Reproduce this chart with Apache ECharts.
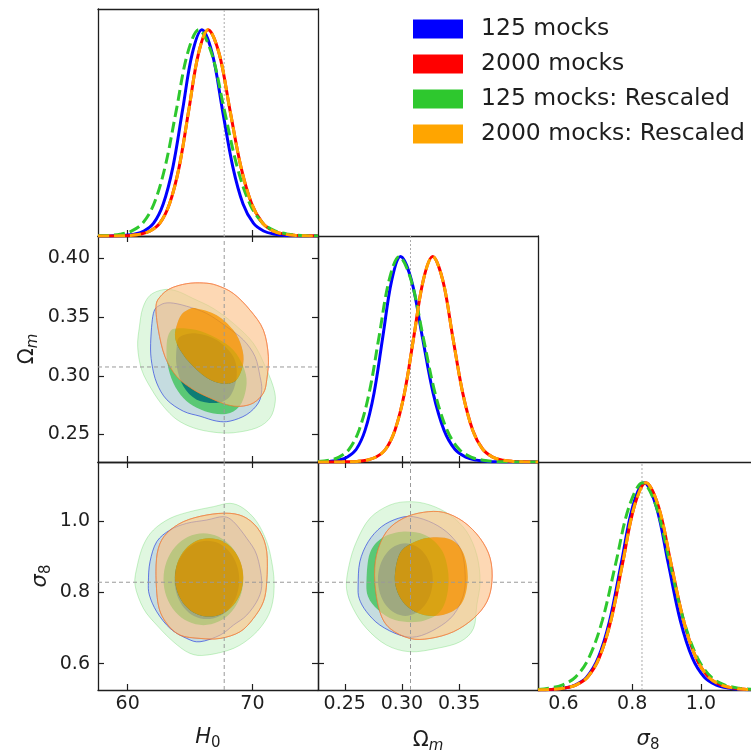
<!DOCTYPE html>
<html><head><meta charset="utf-8">
<script src="https://cdn.jsdelivr.net/npm/echarts@6/dist/echarts.min.js"></script>
<style>html,body{margin:0;padding:0;background:#fff}#c{width:751px;height:755px}</style>
</head><body><div id="c"></div>
<script>
// ---------------- data ----------------
const seriesNames = ['125 mocks', '2000 mocks', '125 mocks: Rescaled', '2000 mocks: Rescaled'];
const truthH0 = 67.74, truthOm = 0.3075, truthS8 = 0.8285;
const ticksH0 = [60, 70];
const ticksOmX = [0.25, 0.30, 0.35];
const ticksOmY = [0.25, 0.30, 0.35, 0.40];
const ticksS8 = [0.6, 0.8, 1.0];

// 1D marginals (normalised to peak 1)
const h0Blue = [[57.62,0],[58.3,0],[58.98,0.001],[59.75,0.003],[60.53,0.009],[61.30,0.024],[62.08,0.062],[62.85,0.155],[63.63,0.335],[64.40,0.61],[65.18,0.885],[65.95,1],[66.78,0.885],[67.60,0.61],[68.43,0.335],[69.25,0.155],[70.08,0.062],[70.90,0.024],[71.73,0.009],[72.55,0.003],[73.38,0.001],[74.3,0],[75.26,0]];
const h0Red = [[57.62,0],[58.7,0],[59.48,0.001],[60.25,0.003],[61.03,0.009],[61.80,0.024],[62.58,0.062],[63.35,0.155],[64.13,0.335],[64.90,0.61],[65.68,0.885],[66.45,1],[67.33,0.885],[68.20,0.61],[69.08,0.335],[69.95,0.155],[70.83,0.062],[71.70,0.024],[72.58,0.009],[73.45,0.003],[74.33,0.001],[75.26,0]];
const h0Green = [[57.62,0.001],[58.5,0.003],[59.4,0.009],[60.3,0.024],[61.2,0.062],[62.1,0.155],[63.0,0.335],[63.9,0.61],[64.8,0.885],[65.7,1],[66.73,0.885],[67.75,0.61],[68.78,0.335],[69.8,0.155],[70.83,0.062],[71.85,0.024],[72.88,0.009],[73.9,0.003],[74.93,0.001],[75.26,0]];
const h0Orange = [[57.62,0],[58.7,0],[59.48,0.001],[60.25,0.003],[61.03,0.009],[61.80,0.024],[62.58,0.062],[63.35,0.155],[64.13,0.335],[64.90,0.61],[65.68,0.885],[66.45,1],[67.33,0.885],[68.20,0.61],[69.08,0.335],[69.95,0.155],[70.83,0.062],[71.70,0.024],[72.58,0.009],[73.45,0.003],[74.33,0.001],[75.26,0]];

const omBlue = [[0.2266,0],[0.2290,0.001],[0.2368,0.003],[0.2446,0.009],[0.2523,0.024],[0.2601,0.062],[0.2678,0.155],[0.2756,0.335],[0.2833,0.61],[0.2911,0.885],[0.2988,1],[0.3083,0.885],[0.3178,0.61],[0.3273,0.335],[0.3368,0.155],[0.3463,0.062],[0.3558,0.024],[0.3653,0.009],[0.3748,0.003],[0.3843,0.001],[0.395,0],[0.419,0]];
const omRed = [[0.2266,0],[0.245,0],[0.2526,0.001],[0.2609,0.003],[0.2692,0.009],[0.2774,0.024],[0.2857,0.062],[0.2939,0.155],[0.3022,0.335],[0.3104,0.61],[0.3187,0.885],[0.3269,1],[0.3357,0.885],[0.3444,0.61],[0.3532,0.335],[0.3619,0.155],[0.3707,0.062],[0.3794,0.024],[0.3882,0.009],[0.3969,0.003],[0.4057,0.001],[0.419,0]];
const omGreen = [[0.2266,0.002],[0.2363,0.009],[0.2450,0.024],[0.2538,0.062],[0.2625,0.155],[0.2713,0.335],[0.2800,0.61],[0.2888,0.885],[0.2975,1],[0.3080,0.885],[0.3185,0.61],[0.3290,0.335],[0.3395,0.155],[0.3500,0.062],[0.3605,0.024],[0.3710,0.009],[0.3815,0.003],[0.3920,0.001],[0.403,0],[0.419,0]];
const omOrange = [[0.2266,0],[0.245,0],[0.2526,0.001],[0.2609,0.003],[0.2692,0.009],[0.2774,0.024],[0.2857,0.062],[0.2939,0.155],[0.3022,0.335],[0.3104,0.61],[0.3187,0.885],[0.3269,1],[0.3357,0.885],[0.3444,0.61],[0.3532,0.335],[0.3619,0.155],[0.3707,0.062],[0.3794,0.024],[0.3882,0.009],[0.3969,0.003],[0.4057,0.001],[0.419,0]];

const s8Blue = [[0.526,0],[0.5335,0.001],[0.567,0.003],[0.6005,0.009],[0.634,0.024],[0.6675,0.062],[0.701,0.155],[0.7345,0.335],[0.768,0.61],[0.8015,0.885],[0.835,1],[0.870,0.885],[0.905,0.61],[0.940,0.335],[0.975,0.155],[1.010,0.062],[1.045,0.024],[1.080,0.009],[1.115,0.003],[1.150,0.001],[1.166,0]];
const s8Red = [[0.526,0],[0.534,0.001],[0.568,0.003],[0.602,0.009],[0.636,0.024],[0.670,0.062],[0.704,0.155],[0.738,0.335],[0.772,0.61],[0.806,0.885],[0.840,1],[0.8765,0.885],[0.913,0.61],[0.9495,0.335],[0.986,0.155],[1.0225,0.062],[1.059,0.024],[1.0955,0.009],[1.132,0.003],[1.166,0.001]];
const s8Green = [[0.526,0.002],[0.557,0.009],[0.596,0.024],[0.635,0.062],[0.674,0.155],[0.713,0.335],[0.752,0.61],[0.791,0.885],[0.830,1],[0.870,0.885],[0.910,0.61],[0.950,0.335],[0.990,0.155],[1.030,0.062],[1.070,0.024],[1.110,0.009],[1.150,0.003],[1.166,0.002]];
const s8Orange = [[0.526,0],[0.534,0.001],[0.568,0.003],[0.602,0.009],[0.636,0.024],[0.670,0.062],[0.704,0.155],[0.738,0.335],[0.772,0.61],[0.806,0.885],[0.840,1],[0.8765,0.885],[0.913,0.61],[0.9495,0.335],[0.986,0.155],[1.0225,0.062],[1.059,0.024],[1.0955,0.009],[1.132,0.003],[1.166,0.001]];

// 2D contours, panel H0 - Omega_m  (95% outer, 68% inner)
const h0OmBlueOuter = [[61.84,0.3276],[62.06,0.3530],[62.59,0.3601],[63.40,0.3621],[64.73,0.3592],[66.34,0.3530],[67.94,0.3417],[69.28,0.3305],[70.21,0.3164],[70.61,0.2994],[70.75,0.2882],[70.48,0.2769],[69.55,0.2670],[68.21,0.2614],[67.14,0.2614],[65.80,0.2656],[64.47,0.2698],[63.13,0.2797],[62.33,0.2938],[61.93,0.3107]];
const h0OmBlueInner = [[64.20,0.3333],[65.53,0.3361],[67.14,0.3305],[68.47,0.3163],[68.74,0.2994],[68.21,0.2825],[67.14,0.2769],[65.53,0.2797],[64.46,0.2910],[63.93,0.3079],[63.93,0.3248]];
const h0OmRedOuter = [[62.27,0.3587],[62.59,0.3671],[63.40,0.3742],[64.73,0.3784],[66.07,0.3790],[67.14,0.3770],[68.48,0.3700],[69.81,0.3559],[70.88,0.3389],[71.28,0.3164],[71.15,0.2966],[70.88,0.2853],[70.08,0.2769],[69.01,0.2740],[67.94,0.2755],[66.60,0.2811],[65.27,0.2882],[63.93,0.2994],[62.99,0.3164],[62.46,0.3389]];
const h0OmRedInner = [[65.53,0.3573],[67.14,0.3516],[68.47,0.3389],[69.14,0.3248],[69.27,0.3107],[68.74,0.2966],[67.80,0.2932],[66.60,0.2966],[65.26,0.3079],[64.20,0.3220],[63.79,0.3347],[64.20,0.3502],[64.86,0.3564]];
const h0OmGreenOuter = [[60.80,0.3248],[60.94,0.3417],[61.20,0.3573],[61.79,0.3685],[62.86,0.3733],[63.93,0.3722],[65.27,0.3657],[66.87,0.3573],[68.48,0.3446],[70.08,0.3276],[71.15,0.3051],[71.74,0.2882],[71.82,0.2769],[71.42,0.2642],[70.35,0.2557],[68.48,0.2515],[66.87,0.2520],[65.27,0.2557],[63.93,0.2628],[62.86,0.2740],[61.93,0.2882],[61.12,0.3051]];
const h0OmGreenInner = [[63.93,0.3403],[65.53,0.3389],[67.14,0.3319],[68.47,0.3220],[69.27,0.3079],[69.54,0.2938],[69.14,0.2769],[68.21,0.2684],[66.87,0.2679],[65.53,0.2727],[64.46,0.2811],[63.66,0.2938],[63.18,0.3107],[63.13,0.3277],[63.39,0.3375]];
const h0OmOrangeOuter = [[62.27,0.3587],[62.59,0.3671],[63.40,0.3742],[64.73,0.3784],[66.07,0.3790],[67.14,0.3770],[68.48,0.3700],[69.81,0.3559],[70.88,0.3389],[71.28,0.3164],[71.15,0.2966],[70.88,0.2853],[70.08,0.2769],[69.01,0.2740],[67.94,0.2755],[66.60,0.2811],[65.27,0.2882],[63.93,0.2994],[62.99,0.3164],[62.46,0.3389]];
const h0OmOrangeInner = [[65.53,0.3573],[67.14,0.3516],[68.47,0.3389],[69.14,0.3248],[69.27,0.3107],[68.74,0.2966],[67.80,0.2932],[66.60,0.2966],[65.26,0.3079],[64.20,0.3220],[63.79,0.3347],[64.20,0.3502],[64.86,0.3564]];

// panel H0 - sigma8
const h0S8BlueOuter = [[61.66,0.8300],[61.79,0.8861],[62.33,0.9423],[63.40,0.9751],[64.73,0.9938],[66.34,1.0032],[67.67,1.0125],[68.48,0.9985],[69.55,0.9517],[70.35,0.9049],[70.75,0.8300],[70.48,0.7831],[69.55,0.7363],[68.48,0.7082],[67.41,0.6801],[65.80,0.6614],[64.73,0.6708],[63.40,0.6989],[62.33,0.7457],[61.74,0.7925]];
const h0S8BlueInner = [[68.95,0.835],[68.75,0.877],[68.19,0.913],[67.35,0.937],[66.35,0.945],[65.35,0.937],[64.51,0.913],[63.95,0.877],[63.75,0.835],[63.95,0.793],[64.51,0.757],[65.35,0.733],[66.35,0.725],[67.35,0.733],[68.19,0.757],[68.75,0.793]];
const h0S8RedOuter = [[62.27,0.8580],[62.46,0.9236],[63.13,0.9657],[64.47,0.9985],[66.34,1.0172],[68.21,1.0219],[69.55,1.0079],[70.61,0.9704],[71.15,0.9142],[71.15,0.8300],[70.88,0.7738],[70.08,0.7270],[69.01,0.6895],[67.41,0.6708],[65.80,0.6708],[64.20,0.6801],[63.13,0.7129],[62.46,0.7644]];
const h0S8RedInner = [[69.27,0.842],[69.06,0.884],[68.47,0.920],[67.58,0.944],[66.53,0.952],[65.48,0.944],[64.59,0.920],[64.0,0.884],[63.79,0.842],[64.0,0.800],[64.59,0.764],[65.48,0.740],[66.53,0.732],[67.58,0.740],[68.47,0.764],[69.06,0.800]];
const h0S8GreenOuter = [[60.59,0.8206],[60.78,0.8768],[61.26,0.9330],[62.06,0.9751],[63.40,1.0079],[65.00,1.0266],[66.87,1.0406],[68.21,1.0500],[69.28,1.0360],[70.35,0.9985],[71.15,0.9423],[71.55,0.8861],[71.74,0.8300],[71.63,0.7738],[71.15,0.7270],[70.08,0.6801],[68.48,0.6427],[66.34,0.6240],[65.00,0.6287],[63.66,0.6614],[62.33,0.7082],[61.26,0.7551]];
const h0S8GreenInner = [[69.27,0.837],[69.03,0.886],[68.33,0.928],[67.30,0.956],[66.07,0.966],[64.84,0.956],[63.81,0.928],[63.11,0.886],[62.87,0.837],[63.11,0.788],[63.81,0.746],[64.84,0.718],[66.07,0.708],[67.30,0.718],[68.33,0.746],[69.03,0.788]];
const h0S8OrangeOuter = [[62.27,0.8580],[62.46,0.9236],[63.13,0.9657],[64.47,0.9985],[66.34,1.0172],[68.21,1.0219],[69.55,1.0079],[70.61,0.9704],[71.15,0.9142],[71.15,0.8300],[70.88,0.7738],[70.08,0.7270],[69.01,0.6895],[67.41,0.6708],[65.80,0.6708],[64.20,0.6801],[63.13,0.7129],[62.46,0.7644]];
const h0S8OrangeInner = [[69.27,0.842],[69.06,0.884],[68.47,0.920],[67.58,0.944],[66.53,0.952],[65.48,0.944],[64.59,0.920],[64.0,0.884],[63.79,0.842],[64.0,0.800],[64.59,0.764],[65.48,0.740],[66.53,0.732],[67.58,0.740],[68.47,0.764],[69.06,0.800]];

// panel Omega_m - sigma8
const omS8BlueOuter = [[0.2617,0.8206],[0.2632,0.8861],[0.2705,0.9423],[0.2822,0.9845],[0.2968,1.0079],[0.3099,1.0125],[0.3275,0.9938],[0.3421,0.9610],[0.3523,0.9142],[0.3553,0.8487],[0.3538,0.7925],[0.3450,0.7363],[0.3304,0.6989],[0.3129,0.6755],[0.2982,0.6801],[0.2807,0.7082],[0.2690,0.7457],[0.2626,0.7831]];
const omS8BlueInner = [[0.327,0.836],[0.3252,0.875],[0.3200,0.908],[0.3122,0.930],[0.303,0.938],[0.2938,0.930],[0.2860,0.908],[0.2808,0.875],[0.279,0.836],[0.2808,0.797],[0.2860,0.764],[0.2938,0.742],[0.303,0.734],[0.3122,0.742],[0.3200,0.764],[0.3252,0.797]];
const omS8RedOuter = [[0.2763,0.8300],[0.2778,0.9049],[0.2865,0.9704],[0.3012,1.0079],[0.3187,1.0247],[0.3363,1.0247],[0.3538,0.9985],[0.3684,0.9517],[0.3772,0.8955],[0.3787,0.8300],[0.3743,0.7738],[0.3626,0.7270],[0.3450,0.6895],[0.3246,0.6708],[0.3070,0.6708],[0.2895,0.6989],[0.2807,0.7457]];
const omS8RedInner = [[0.2938,0.8345],[0.2982,0.9096],[0.3114,0.9421],[0.3274,0.9545],[0.3436,0.9469],[0.3538,0.9096],[0.3576,0.8438],[0.3538,0.7784],[0.3436,0.7455],[0.3274,0.7334],[0.3114,0.7455],[0.2997,0.7784]];
const omS8GreenOuter = [[0.2515,0.8112],[0.2538,0.8768],[0.2602,0.9423],[0.2719,1.0079],[0.2895,1.0453],[0.3070,1.0547],[0.3246,1.0453],[0.3421,1.0172],[0.3567,0.9704],[0.3655,0.9049],[0.3684,0.8300],[0.3655,0.7644],[0.3626,0.6989],[0.3509,0.6614],[0.3304,0.6427],[0.3070,0.6333],[0.2865,0.6521],[0.2690,0.6989],[0.2573,0.7551]];
const omS8GreenInner = [[0.2690,0.8345],[0.2719,0.9096],[0.2822,0.9517],[0.2997,0.9702],[0.3202,0.9610],[0.3348,0.9188],[0.3406,0.8534],[0.3392,0.7877],[0.3318,0.7410],[0.3143,0.7174],[0.2938,0.7222],[0.2792,0.7503],[0.2704,0.7877]];
const omS8OrangeOuter = [[0.2763,0.8300],[0.2778,0.9049],[0.2865,0.9704],[0.3012,1.0079],[0.3187,1.0247],[0.3363,1.0247],[0.3538,0.9985],[0.3684,0.9517],[0.3772,0.8955],[0.3787,0.8300],[0.3743,0.7738],[0.3626,0.7270],[0.3450,0.6895],[0.3246,0.6708],[0.3070,0.6708],[0.2895,0.6989],[0.2807,0.7457]];
const omS8OrangeInner = [[0.2938,0.8345],[0.2982,0.9096],[0.3114,0.9421],[0.3274,0.9545],[0.3436,0.9469],[0.3538,0.9096],[0.3576,0.8438],[0.3538,0.7784],[0.3436,0.7455],[0.3274,0.7334],[0.3114,0.7455],[0.2997,0.7784]];

// ---------------- styling / layout ----------------
const FONT = 'DejaVu Sans';
const INK = '#1e1e1e';
const lineColors = ['#0000ff', '#ff0000', '#2ec82e', '#ffa500'];
const lineDash = ['solid', 'solid', [11, 5], [11, 5]];
const contourStyles = [
  {ring: 'rgba(0,0,255,0.12)', inner: 'rgba(0,0,255,0.85)', line: 'rgba(30,30,255,0.65)'},
  {ring: 'rgba(255,0,0,0.06)', inner: 'rgba(255,0,0,0.3)', line: 'rgba(255,0,0,0.4)'},
  {ring: 'rgba(46,200,46,0.15)', inner: 'rgba(0,183,25,0.6)', line: 'rgba(46,200,46,0.25)'},
  {ring: 'rgba(252,200,140,0.6)', inner: 'rgba(255,160,0,0.77)', line: 'rgba(242,135,60,0.75)'}
];
const rangeH0 = [57.62, 75.26], rangeOm = [0.2266, 0.4190], rangeS8 = [0.526, 1.166], rangePdf = [0, 1.1];

const nameRich = {
  it: {fontFamily: FONT, fontSize: 21, fontStyle: 'italic', color: INK, lineHeight: 26},
  up: {fontFamily: FONT, fontSize: 21, color: INK, lineHeight: 26},
  sub: {fontFamily: FONT, fontSize: 15, color: INK, lineHeight: 14, verticalAlign: 'bottom'},
  subi: {fontFamily: FONT, fontSize: 15, fontStyle: 'italic', color: INK, lineHeight: 14, verticalAlign: 'bottom'}
};
const f0 = v => String(Math.round(v));
const f1 = v => v.toFixed(1);
const f2 = v => v.toFixed(2);

const grids = [
  {left: 98, top: 9, width: 220, height: 227},
  {left: 98, top: 236, width: 220, height: 226},
  {left: 318, top: 236, width: 220, height: 226},
  {left: 98, top: 462, width: 220, height: 228},
  {left: 318, top: 462, width: 220, height: 228},
  {left: 538, top: 462, width: 220, height: 228}
].map(g => Object.assign({containLabel: false, outerBoundsMode: 'none', show: false}, g));

const panels = [
  {x: rangeH0, xt: ticksH0, y: rangePdf, oneD: true},
  {x: rangeH0, xt: ticksH0, y: rangeOm, yt: ticksOmY, yfmt: f2, yname: '{up|Ω}{subi|m}', ygap: 57},
  {x: rangeOm, xt: ticksOmX, y: rangePdf, oneD: true},
  {x: rangeH0, xt: ticksH0, xfmt: f0, xname: '{it|H}{sub|0}', xgap: 35, y: rangeS8, yt: ticksS8, yfmt: f1, yname: '{it|σ}{sub|8}', ygap: 44},
  {x: rangeOm, xt: ticksOmX, xfmt: f2, xname: '{up|Ω}{subi|m}', xgap: 38, y: rangeS8, yt: ticksS8},
  {x: rangeS8, xt: ticksS8, xfmt: f1, xname: '{it|σ}{sub|8}', xgap: 37, y: rangePdf, oneD: true}
];

const axLine = {onZero: false, lineStyle: {color: INK, width: 1.3}};
const tickStyle = {color: INK, width: 1.2};
const labelBase = {fontSize: 19, fontFamily: FONT, color: INK};
const xAxes = [], yAxes = [];
panels.forEach((p, k) => {
  xAxes.push({
    gridIndex: k, type: 'value', position: 'bottom', min: p.x[0], max: p.x[1],
    splitLine: {show: false}, axisLine: axLine,
    axisTick: {show: true, inside: true, length: 6, customValues: p.xt, lineStyle: tickStyle},
    axisLabel: Object.assign({show: !!p.xfmt, customValues: p.xt, formatter: p.xfmt || f2, margin: 5}, labelBase),
    name: p.xname || '', nameLocation: 'middle', nameGap: p.xgap || 35,
    nameTextStyle: {fontFamily: FONT, fontSize: 21, color: INK, rich: nameRich}
  });
  xAxes.push({
    gridIndex: k, type: 'value', position: 'top', min: p.x[0], max: p.x[1],
    splitLine: {show: false}, axisLine: axLine,
    axisTick: {show: !p.oneD, inside: true, length: 6, customValues: p.xt, lineStyle: tickStyle},
    axisLabel: {show: false}
  });
  yAxes.push({
    gridIndex: k, type: 'value', position: 'left', min: p.y[0], max: p.y[1],
    splitLine: {show: false}, axisLine: axLine,
    axisTick: {show: !p.oneD, inside: true, length: 6, customValues: p.yt || [], lineStyle: tickStyle},
    axisLabel: Object.assign({show: !!p.yfmt, customValues: p.yt || [], formatter: p.yfmt || f2, margin: 8}, labelBase),
    name: p.yname || '', nameLocation: 'middle', nameGap: p.ygap || 40, nameRotate: 90,
    nameTextStyle: {fontFamily: FONT, fontSize: 21, color: INK, rich: nameRich}
  });
  yAxes.push({
    gridIndex: k, type: 'value', position: 'right', min: p.y[0], max: p.y[1],
    splitLine: {show: false}, axisLine: axLine,
    axisTick: {show: !p.oneD, inside: true, length: 6, customValues: p.yt || [], lineStyle: tickStyle},
    axisLabel: {show: false}
  });
});

// ---------------- helpers for contour drawing ----------------
function signedArea(pts) {
  let a = 0;
  for (let i = 0; i < pts.length; i++) {
    const p = pts[i], q = pts[(i + 1) % pts.length];
    a += p[0] * q[1] - q[0] * p[1];
  }
  return a;
}
function closedPath(pts) {
  const n = pts.length;
  let d = 'M' + pts[0][0].toFixed(2) + ',' + pts[0][1].toFixed(2);
  for (let k = 0; k < n; k++) {
    const p0 = pts[(k - 1 + n) % n], p1 = pts[k], p2 = pts[(k + 1) % n], p3 = pts[(k + 2) % n];
    const c1 = [p1[0] + (p2[0] - p0[0]) / 6, p1[1] + (p2[1] - p0[1]) / 6];
    const c2 = [p2[0] - (p3[0] - p1[0]) / 6, p2[1] - (p3[1] - p1[1]) / 6];
    d += 'C' + c1[0].toFixed(2) + ',' + c1[1].toFixed(2) + ',' + c2[0].toFixed(2) + ',' + c2[1].toFixed(2) + ',' + p2[0].toFixed(2) + ',' + p2[1].toFixed(2);
  }
  return d + 'Z';
}
function contourRenderer(outer, inner, st) {
  return function (params, api) {
    const o = outer.map(p => api.coord(p));
    let i = inner.map(p => api.coord(p));
    if (Math.sign(signedArea(o)) === Math.sign(signedArea(i))) i = i.slice().reverse();
    return {
      type: 'group',
      children: [
        {type: 'path', shape: {pathData: closedPath(o) + ' ' + closedPath(i)}, style: {fill: st.ring, stroke: 'none'}},
        {type: 'path', shape: {pathData: closedPath(i)}, style: {fill: st.inner, stroke: 'none'}},
        {type: 'path', shape: {pathData: closedPath(o)}, style: {fill: 'none', stroke: st.line, lineWidth: 1}}
      ]
    };
  };
}

const series = [];
const contourSets = [
  [1, [[h0OmBlueOuter, h0OmBlueInner], [h0OmRedOuter, h0OmRedInner], [h0OmGreenOuter, h0OmGreenInner], [h0OmOrangeOuter, h0OmOrangeInner]]],
  [3, [[h0S8BlueOuter, h0S8BlueInner], [h0S8RedOuter, h0S8RedInner], [h0S8GreenOuter, h0S8GreenInner], [h0S8OrangeOuter, h0S8OrangeInner]]],
  [4, [[omS8BlueOuter, omS8BlueInner], [omS8RedOuter, omS8RedInner], [omS8GreenOuter, omS8GreenInner], [omS8OrangeOuter, omS8OrangeInner]]]
];
contourSets.forEach(([k, sets]) => {
  sets.forEach(([outer, inner], s) => {
    series.push({
      type: 'custom', name: seriesNames[s], xAxisIndex: 2 * k, yAxisIndex: 2 * k,
      coordinateSystem: 'cartesian2d', silent: true, z: 2 + s,
      data: [outer[0]], renderItem: contourRenderer(outer, inner, contourStyles[s])
    });
  });
});

// reference (true value) lines
function refLine(k, pts, oneD) {
  series.push({
    type: 'line', xAxisIndex: 2 * k, yAxisIndex: 2 * k, data: pts, showSymbol: false, silent: true, z: 7,
    lineStyle: {color: oneD ? '#aaaaaa' : '#9a9a9a', width: 1, type: oneD ? [2, 2] : [4, 3]}
  });
}
refLine(0, [[truthH0, rangePdf[0]], [truthH0, rangePdf[1]]], true);
refLine(1, [[truthH0, rangeOm[0]], [truthH0, rangeOm[1]]]);
refLine(1, [[rangeH0[0], truthOm], [rangeH0[1], truthOm]]);
refLine(2, [[truthOm, rangePdf[0]], [truthOm, rangePdf[1]]], true);
refLine(3, [[truthH0, rangeS8[0]], [truthH0, rangeS8[1]]]);
refLine(3, [[rangeH0[0], truthS8], [rangeH0[1], truthS8]]);
refLine(4, [[truthOm, rangeS8[0]], [truthOm, rangeS8[1]]]);
refLine(4, [[rangeOm[0], truthS8], [rangeOm[1], truthS8]]);
refLine(5, [[truthS8, rangePdf[0]], [truthS8, rangePdf[1]]], true);

// 1D marginal curves
const marg = [
  [0, [h0Blue, h0Red, h0Green, h0Orange]],
  [2, [omBlue, omRed, omGreen, omOrange]],
  [5, [s8Blue, s8Red, s8Green, s8Orange]]
];
marg.forEach(([k, curves]) => {
  curves.forEach((c, s) => {
    series.push({
      type: 'line', name: seriesNames[s], xAxisIndex: 2 * k, yAxisIndex: 2 * k, data: c,
      showSymbol: false, smooth: 0.35, silent: true, z: 10 + s,
      lineStyle: {color: lineColors[s], width: 3, type: lineDash[s]},
      itemStyle: {color: lineColors[s]}
    });
  });
});

const chart = echarts.init(document.getElementById('c'), null, {renderer: 'canvas'});
chart.setOption({
  animation: false,
  backgroundColor: '#ffffff',
  grid: grids,
  xAxis: xAxes,
  yAxis: yAxes,
  legend: {
    orient: 'vertical', left: 413, top: 17, padding: 0, itemWidth: 50, itemHeight: 19, itemGap: 11,
    selectedMode: false,
    textStyle: {fontSize: 23.5, fontFamily: FONT, color: INK, lineHeight: 19, padding: [0, 0, 0, 13]},
    data: seriesNames.map((n, i) => ({name: n, icon: 'rect', itemStyle: {color: lineColors[i], borderWidth: 0, opacity: 1}, lineStyle: {width: 0, opacity: 0}}))
  },
  series: series
});
</script></body></html>
